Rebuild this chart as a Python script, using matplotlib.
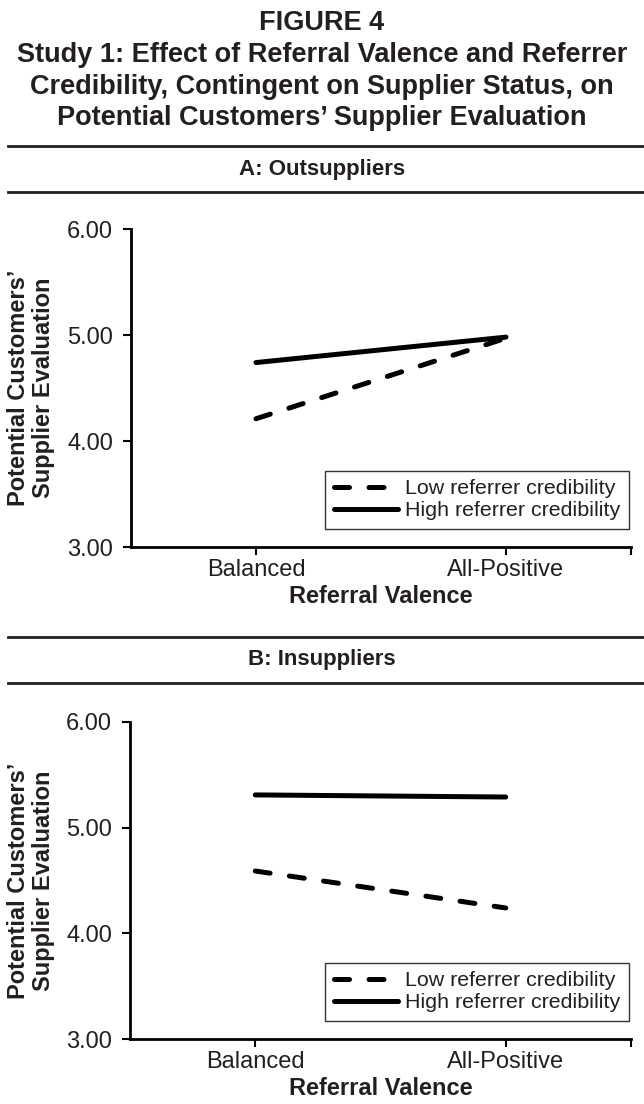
import matplotlib
matplotlib.use('Agg')
import matplotlib.pyplot as plt
from matplotlib.lines import Line2D

plt.rcParams['font.family'] = ['Liberation Sans', 'DejaVu Sans']

ink = '#231f20'

title_lines = [
    'FIGURE 4',
    'Study 1: Effect of Referral Valence and Referrer',
    'Credibility, Contingent on Supplier Status, on',
    'Potential Customers\u2019 Supplier Evaluation',
]
panel_titles = ['A: Outsuppliers', 'B: Insuppliers']
valence = ['Balanced', 'All-Positive']
series_names = ['Low referrer credibility', 'High referrer credibility']
y_ticks = [3.0, 4.0, 5.0, 6.0]

out_low = [4.21, 4.97]
out_high = [4.74, 4.98]
in_low = [4.59, 4.24]
in_high = [5.31, 5.29]
panels = [(out_low, out_high), (in_low, in_high)]

fig = plt.figure(figsize=(6.44, 11.04), dpi=100)
W, H = 644, 1104


def fy(px):
    return 1 - px / H


# title block
for txt, ypx in zip(title_lines, [23, 55, 87, 118]):
    fig.text(0.5, fy(ypx), txt, ha='center', va='center',
             fontsize=19.5, fontweight='bold', color=ink)

# panel header rules and headings
rules = [(146, 192, 170), (637, 683, 660)]
axes_box = [(131, 229, 547), (130, 722, 1039)]

for k, (low, high) in enumerate(panels):
    r1, r2, hy = rules[k]
    for r in (r1, r2):
        fig.add_artist(Line2D([8 / W, 1.0], [fy(r), fy(r)], transform=fig.transFigure,
                              color=ink, lw=2.0))
    fig.text(0.5, fy(hy), panel_titles[k], ha='center', va='center',
             fontsize=16, fontweight='bold', color=ink)

    left, top, bottom = axes_box[k]
    ax = fig.add_axes([left / W, fy(bottom), (631 - left) / W, (bottom - top) / H])
    x = list(range(len(valence)))
    ax.plot(x, low, color='black', lw=3.6, ls=(0, (3.0, 3.9)),
            solid_capstyle='round', dash_capstyle='round', label=series_names[0])
    ax.plot(x, high, color='black', lw=3.6, solid_capstyle='round',
            label=series_names[1])

    ax.set_xlim(-0.5, 1.5)
    ax.set_ylim(3.0, 6.0)
    ax.set_yticks(y_ticks)
    ax.set_yticklabels([f'{v:.2f}' for v in y_ticks])
    ax.set_xticks(x)
    ax.set_xticklabels(valence)
    ax.set_xticks([1.5], minor=True)
    for s in ('top', 'right'):
        ax.spines[s].set_visible(False)
    for s in ('left', 'bottom'):
        ax.spines[s].set_linewidth(2.0)
        ax.spines[s].set_color('black')
    ax.tick_params(axis='y', direction='out', length=6, width=1.5, pad=7,
                   labelsize=17, labelcolor=ink)
    ax.tick_params(axis='x', which='both', direction='out', length=6, width=1.5, pad=2.5,
                   labelsize=17, labelcolor=ink)

    ax.set_xlabel('Referral Valence', fontsize=17, fontweight='bold', color=ink, labelpad=3)

    fig.text(31 / W, fy((top + bottom) / 2), 'Potential Customers\u2019\nSupplier Evaluation',
             rotation=90, ha='center', va='center', fontsize=17, fontweight='bold',
             color=ink, linespacing=1.1)

    leg = ax.legend(loc='lower right', bbox_to_anchor=(0.996, 0.057), borderaxespad=0,
                    fontsize=15.4, handlelength=3.0, handletextpad=0.35,
                    labelspacing=0.15, borderpad=0.4, fancybox=False, framealpha=1)
    leg.get_frame().set_edgecolor('#333333')
    leg.get_frame().set_linewidth(1.0)
    for t in leg.get_texts():
        t.set_color(ink)

fig.savefig('out.png', dpi=100)
